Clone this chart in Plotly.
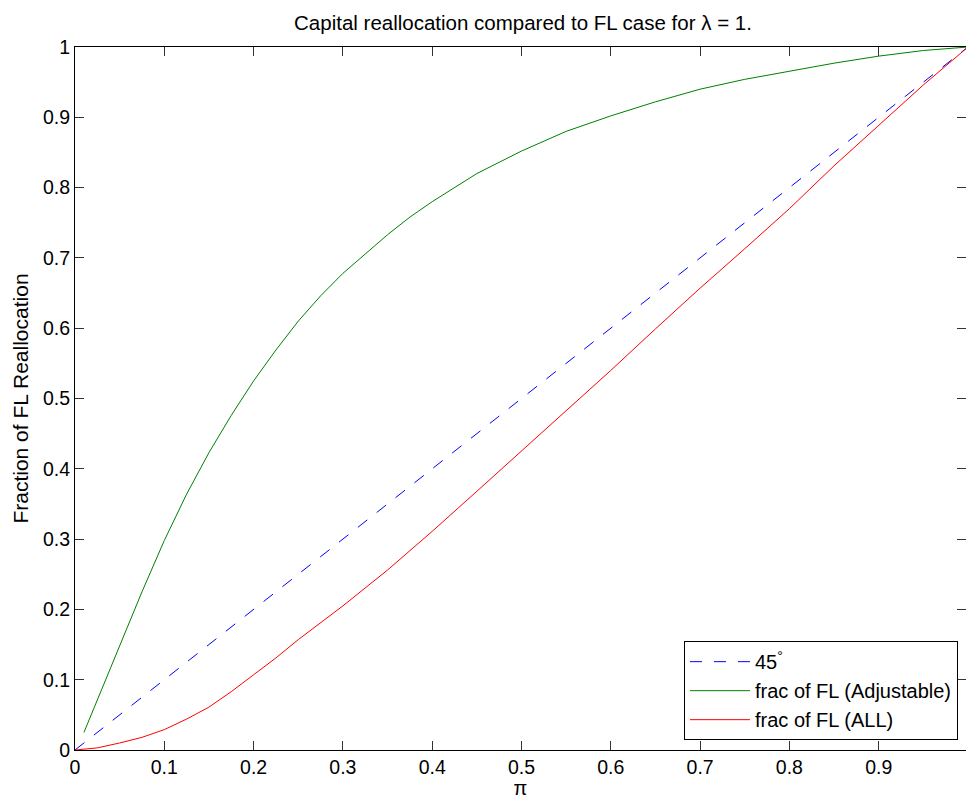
import plotly.graph_objects as go

# Data
pi_diag = [0.0, 1.0]
diag_vals = [0.0, 1.0]

pi_adj = [0.01, 0.02, 0.03, 0.05, 0.075, 0.10, 0.125, 0.15, 0.175, 0.20, 0.225, 0.25,
          0.275, 0.30, 0.325, 0.35, 0.375, 0.40, 0.45, 0.50, 0.55, 0.60, 0.65, 0.70,
          0.75, 0.80, 0.85, 0.90, 0.95, 1.0]
frac_adj = [0.025, 0.056, 0.087, 0.148, 0.225, 0.298, 0.364, 0.423, 0.476, 0.525,
            0.569, 0.610, 0.646, 0.678, 0.706, 0.733, 0.758, 0.780, 0.820, 0.852,
            0.880, 0.902, 0.922, 0.940, 0.954, 0.966, 0.977, 0.987, 0.995, 1.0]

pi_all = [0.0, 0.025, 0.05, 0.075, 0.10, 0.125, 0.15, 0.175, 0.20, 0.225, 0.25, 0.275,
          0.30, 0.35, 0.40, 0.45, 0.50, 0.55, 0.60, 0.65, 0.70, 0.75, 0.80, 0.85,
          0.90, 0.95, 1.0]
frac_all = [0.0, 0.003, 0.010, 0.018, 0.029, 0.044, 0.061, 0.083, 0.107, 0.131, 0.157,
            0.181, 0.205, 0.256, 0.311, 0.368, 0.425, 0.482, 0.540, 0.599, 0.657, 0.713,
            0.770, 0.831, 0.889, 0.946, 1.0]

x_ticks = [0, 0.1, 0.2, 0.3, 0.4, 0.5, 0.6, 0.7, 0.8, 0.9, 1]
x_tick_labels = ["0", "0.1", "0.2", "0.3", "0.4", "0.5", "0.6", "0.7", "0.8", "0.9", "1"]
y_ticks = [0, 0.1, 0.2, 0.3, 0.4, 0.5, 0.6, 0.7, 0.8, 0.9, 1]
y_tick_labels = ["0", "0.1", "0.2", "0.3", "0.4", "0.5", "0.6", "0.7", "0.8", "0.9", "1"]

FONT = "Liberation Sans, Arial, Helvetica, sans-serif"

fig = go.Figure()
fig.add_trace(go.Scatter(x=pi_diag, y=diag_vals, mode="lines",
                         name="45<sup>°</sup>",
                         line=dict(color="#0000ff", width=1, dash="12px,12px")))
fig.add_trace(go.Scatter(x=pi_adj, y=frac_adj, mode="lines",
                         name="frac of FL (Adjustable)",
                         line=dict(color="#008000", width=1)))
fig.add_trace(go.Scatter(x=pi_all, y=frac_all, mode="lines",
                         name="frac of FL (ALL)",
                         line=dict(color="#ff0000", width=1)))

axis_common = dict(showgrid=False, zeroline=False, showline=True, linecolor="black",
                   linewidth=1, mirror="ticks", ticks="inside", ticklen=9,
                   tickcolor="#333333", tickfont=dict(size=19.5, color="black", family=FONT))

fig.update_xaxes(range=[0, 891 / 893], tickvals=x_ticks, ticktext=x_tick_labels,
                 title=dict(text="π", font=dict(size=20, color="black", family=FONT), standoff=2),
                 **axis_common)
fig.update_yaxes(range=[0, 1], tickvals=y_ticks, ticktext=y_tick_labels,
                 title=dict(text="Fraction of FL Reallocation",
                            font=dict(size=21, color="black", family=FONT), standoff=8),
                 **axis_common)

fig.update_layout(
    width=966, height=799,
    margin=dict(l=75, r=0, t=47, b=49),
    paper_bgcolor="white", plot_bgcolor="white",
    font=dict(family=FONT, size=20, color="black"),
    title=dict(text="Capital reallocation compared to FL case for λ = 1.",
               x=523 / 966, xanchor="center", y=1 - 23 / 799, yanchor="middle",
               font=dict(size=20.5, color="black", family=FONT)),
    legend=dict(x=0.991, y=0.014, xanchor="right", yanchor="bottom",
                bgcolor="white", bordercolor="black", borderwidth=1,
                font=dict(size=20, color="black", family=FONT),
                itemwidth=60, tracegroupgap=0),
    showlegend=True,
)

fig.write_html("out.html", config={"displayModeBar": False},
               post_script="document.body.style.margin='0';document.body.style.overflow='hidden';")
